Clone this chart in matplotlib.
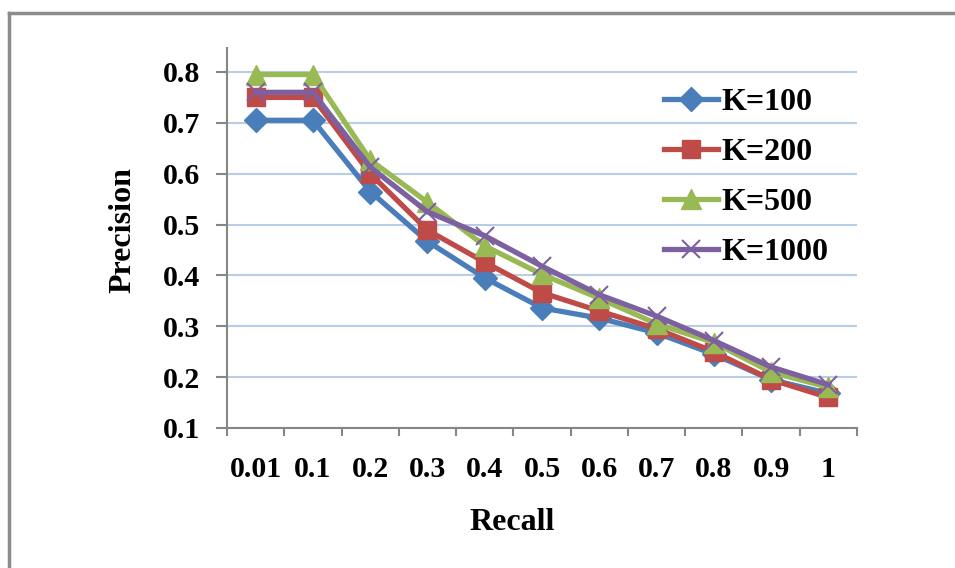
import numpy as np
import matplotlib
matplotlib.use("Agg")
import matplotlib.pyplot as plt
from matplotlib.lines import Line2D

# data
recall = ["0.01", "0.1", "0.2", "0.3", "0.4", "0.5", "0.6", "0.7", "0.8", "0.9", "1"]
k100 = [0.705, 0.705, 0.565, 0.467, 0.395, 0.336, 0.316, 0.287, 0.245, 0.195, 0.168]
k200 = [0.750, 0.750, 0.600, 0.489, 0.426, 0.366, 0.330, 0.295, 0.250, 0.195, 0.160]
k500 = [0.795, 0.795, 0.627, 0.544, 0.458, 0.402, 0.355, 0.305, 0.268, 0.210, 0.180]
k1000 = [0.760, 0.760, 0.613, 0.525, 0.478, 0.418, 0.362, 0.320, 0.272, 0.220, 0.185]

plt.rcParams['font.family'] = ['Liberation Serif', 'DejaVu Serif']
plt.rcParams['font.weight'] = 'bold'

fig = plt.figure(figsize=(9.55, 5.68), dpi=100)
ax = fig.add_axes([227/955, 1 - 428/568, 630/955, 380/568])

x = np.arange(len(recall))
ax.plot(x, k100, color="#4A7EBB", lw=3.8, marker="D", ms=12, label="K=100")
ax.plot(x, k200, color="#BE4B48", lw=3.8, marker="s", ms=13, label="K=200")
ax.plot(x, k500, color="#98B954", lw=3.8, marker="^", ms=14, label="K=500")
ax.plot(x, k1000, color="#7D60A0", lw=3.8, marker="x", ms=13, mew=1.5, label="K=1000")

ax.set_xlim(-0.5, len(recall) - 0.5)
ax.set_ylim(0.1, 0.8 + 24 / 50.9 * 0.1)
ax.set_yticks(np.arange(0.1, 0.81, 0.1))
ax.set_yticklabels(["%.1f" % v for v in np.arange(0.1, 0.81, 0.1)], fontsize=21.5, fontweight='bold')
ax.set_xticks(x)
ax.set_xticklabels(recall, fontsize=21.5, fontweight='bold')
ax.set_xticks(np.arange(-0.5, len(recall), 1), minor=True)

ax.tick_params(axis='x', which='major', length=0, pad=20)
ax.tick_params(axis='x', which='minor', length=6, color="#868686", width=1.5)
ax.tick_params(axis='y', length=8, color="#868686", width=1.5, pad=11)

ax.grid(axis='y', color="#B9CDE5", lw=1.5)
ax.set_axisbelow(True)
for s in ['top', 'right']:
    ax.spines[s].set_visible(False)
for s in ['left', 'bottom']:
    ax.spines[s].set_color("#868686")
    ax.spines[s].set_linewidth(1.5)

ax.set_xlabel("Recall", fontsize=23, fontweight='bold')
ax.set_ylabel("Precision", fontsize=23, fontweight='bold')
ax.xaxis.set_label_coords((512 - 227) / 630, -(508 - 428) / 380)
ax.yaxis.set_label_coords(-(227 - 137) / 630, (428 - 230) / 380)

ax.legend(loc="upper left", bbox_to_anchor=((664 - 227) / 630, (428 - 88) / 380), frameon=False,
          fontsize=23, handlelength=1.7, handletextpad=0.1, labelspacing=0.64,
          borderaxespad=0, borderpad=0)

# outer chart border (left and top only visible)
fig.add_artist(Line2D([8.5/955, 8.5/955], [0, 1 - 13/568], color="#8C8C8C", lw=2.5))
fig.add_artist(Line2D([8.5/955, 1], [1 - 13/568, 1 - 13/568], color="#8C8C8C", lw=2.5))

fig.savefig("out.png", dpi=100)
